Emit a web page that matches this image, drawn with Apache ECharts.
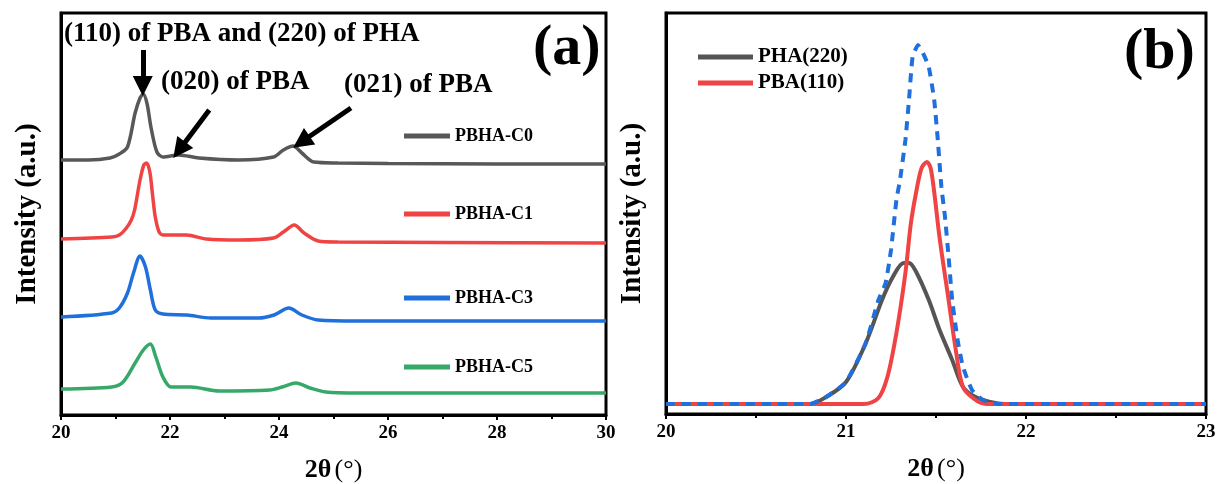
<!DOCTYPE html>
<html><head><meta charset="utf-8">
<script src="https://cdn.jsdelivr.net/npm/echarts@6/dist/echarts.min.js"></script>
<style>html,body{margin:0;padding:0;background:#fff}#c{width:1220px;height:484px}</style>
</head><body><div id="c"></div>
<script>
// ---------- Panel (a): XRD patterns (intensity in arbitrary units, offset curves) ----------
const c0X = [20, 20.5, 20.9, 21.07, 21.22, 21.36, 21.45, 21.51, 21.58, 21.65, 21.76, 21.87, 22.16, 22.53, 23.26, 23.9, 24.08, 24.26, 24.42, 24.64, 25.08, 26, 28, 30];
const c0Y = [255, 255, 257, 261, 268, 302, 317, 321, 311, 288, 263, 258, 260, 257, 255, 258, 265, 269, 262, 253, 252, 251.5, 251, 251];
const c1X = [20, 20.93, 21.07, 21.2, 21.29, 21.35, 21.45, 21.52, 21.57, 21.63, 21.68, 21.73, 21.8, 21.87, 22.3, 22.67, 23.26, 23.9, 24.08, 24.28, 24.46, 24.72, 25.08, 27, 30];
const c1Y = [176, 178, 180, 187, 195, 205, 235, 250, 252, 243, 220, 198, 183, 180, 180, 176, 175, 177, 183, 190, 182, 174, 173, 172.5, 172];
const c3X = [20, 20.93, 21.07, 21.22, 21.33, 21.45, 21.55, 21.64, 21.73, 21.87, 22.31, 22.75, 23.62, 23.91, 24.18, 24.42, 24.72, 25.44, 30];
const c3Y = [98, 102, 107, 122, 142, 159, 148, 125, 105, 101, 100, 97, 97, 100, 107, 100, 95, 94, 94];
const c5X = [20, 20.93, 21.14, 21.36, 21.51, 21.64, 21.74, 21.87, 22.02, 22.38, 22.9, 23.83, 24.06, 24.31, 24.57, 24.86, 25.44, 30];
const c5Y = [26, 28, 33, 52, 65, 71, 58, 38, 28, 28, 24, 25, 28, 32, 27, 23, 22, 22];
const namesA = ['PBHA-C0', 'PBHA-C1', 'PBHA-C3', 'PBHA-C5'];
const ticksA = [20, 22, 24, 26, 28, 30];

// ---------- Panel (b): peak deconvolution ----------
const phaX = [20, 20.8, 20.89, 21.0, 21.11, 21.2, 21.26, 21.32, 21.35, 21.39, 21.46, 21.52, 21.59, 21.65, 21.72, 21.83, 21.9, 23];
const phaY = [10, 10, 17, 32, 71, 114, 137, 151, 151, 142, 114, 84, 54, 27, 17, 11, 10, 10];
const pbaX = [20, 21.1, 21.18, 21.23, 21.28, 21.33, 21.36, 21.39, 21.42, 21.45, 21.47, 21.49, 21.52, 21.57, 21.61, 21.65, 21.72, 21.78, 23];
const pbaY = [10, 10, 16, 37, 81, 141, 190, 222, 246, 252, 246, 222, 176, 114, 64, 27, 14, 10, 10];
const sumX = [20, 20.8, 20.89, 21.0, 21.11, 21.18, 21.22, 21.25, 21.28, 21.3, 21.33, 21.35, 21.37, 21.4, 21.43, 21.46, 21.49, 21.51, 21.53, 21.55, 21.57, 21.59, 21.62, 21.65, 21.7, 21.76, 21.85, 23];
const sumY = [10, 10, 17, 32, 71, 114, 131, 164, 214, 234, 274, 314, 357, 369, 360, 347, 314, 274, 227, 197, 157, 114, 74, 47, 24, 14, 10, 10];
const namesB = ['PHA(220)', 'PBA(110)'];
const ticksB = [20, 21, 22, 23];

const FONT = '"Liberation Serif", "Times New Roman", serif';
const colA = ['#585858', '#f04343', '#1f6fdc', '#36a868'];
const zip = (xs, ys) => xs.map((x, i) => [x, ys[i]]);

const chart = echarts.init(document.getElementById('c'), null, {renderer: 'canvas'});

function xAxisCfg(gridIndex, min, max, interval) {
  return {
    type: 'value', gridIndex, min, max, interval,
    name: '{b|2θ} {n|(°)}', nameLocation: 'middle', nameGap: 42,
    nameTextStyle: {rich: {b: {fontFamily: FONT, fontWeight: 'bold', fontSize: 26, color: '#000'}, n: {fontFamily: FONT, fontSize: 26, color: '#000'}}},
    axisLine: {show: true, lineStyle: {color: '#000', width: 3}},
    axisTick: {show: true, length: 5, lineStyle: {color: '#000', width: 2}},
    minorTick: {show: true, splitNumber: 2, length: 4, lineStyle: {color: '#000', width: 2}},
    splitLine: {show: false},
    axisLabel: {fontFamily: FONT, fontWeight: 'bold', fontSize: 19, color: '#000', margin: 9}
  };
}
function yAxisCfg(gridIndex, max) {
  return {
    type: 'value', gridIndex, min: 0, max,
    name: 'Intensity (a.u.)', nameLocation: 'middle', nameRotate: 90, nameGap: 19,
    nameTextStyle: {fontFamily: FONT, fontWeight: 'bold', fontSize: 29, color: '#000'},
    axisLine: {show: true, lineStyle: {color: '#000', width: 3}},
    axisTick: {show: false}, axisLabel: {show: false}, splitLine: {show: false}
  };
}

const seriesA = [[c0X, c0Y], [c1X, c1Y], [c3X, c3Y], [c5X, c5Y]].map((d, i) => ({
  name: namesA[i], type: 'line', xAxisIndex: 0, yAxisIndex: 0,
  data: zip(d[0], d[1]), showSymbol: false, smooth: 0.3,
  lineStyle: {color: colA[i], width: 3.5}, itemStyle: {color: colA[i]}
}));
// arrows pointing at the reflections (data coordinates of panel a)
seriesA[0].markLine = {
  silent: true, symbol: ['none', 'triangle'], symbolSize: 20,
  lineStyle: {color: '#000', width: 5, type: 'solid'}, label: {show: false},
  itemStyle: {color: '#000'},
  emphasis: {disabled: true},
  data: [
    [{coord: [21.5, 365]}, {coord: [21.5, 329]}],
    [{coord: [22.72, 305]}, {coord: [22.17, 265]}],
    [{coord: [25.32, 307]}, {coord: [24.41, 273]}]
  ]
};

const seriesB = [
  {name: namesB[0], type: 'line', xAxisIndex: 1, yAxisIndex: 1, data: zip(phaX, phaY), showSymbol: false, smooth: 0.3,
   lineStyle: {color: '#555555', width: 4}, itemStyle: {color: '#555555'}},
  {name: namesB[1], type: 'line', xAxisIndex: 1, yAxisIndex: 1, data: zip(pbaX, pbaY), showSymbol: false, smooth: 0.3,
   lineStyle: {color: '#f04343', width: 4}, itemStyle: {color: '#f04343'}},
  {name: 'sum', type: 'line', xAxisIndex: 1, yAxisIndex: 1, data: zip(sumX, sumY), showSymbol: false, smooth: 0.15,
   lineStyle: {color: '#1f6fdc', width: 4, type: [9, 7]}, itemStyle: {color: '#1f6fdc'}}
];

const legA = namesA.map((n, i) => ({
  data: [n], left: 404, top: [127, 205, 289, 358][i], orient: 'vertical', padding: 0,
  icon: 'rect', itemWidth: 46, itemHeight: 5, selectedMode: false,
  textStyle: {fontFamily: FONT, fontWeight: 'bold', fontSize: 18, color: '#000', lineHeight: 16}
}));
const legB = {
  data: namesB, left: 698, top: 46, orient: 'vertical', padding: 0, itemGap: 4,
  icon: 'rect', itemWidth: 55, itemHeight: 5, selectedMode: false,
  textStyle: {fontFamily: FONT, fontWeight: 'bold', fontSize: 21, color: '#000', lineHeight: 22}
};

const txt = (text, left, y, size) => ({
  type: 'text', left, top: y - size * 0.55, z: 100,
  style: {text, fontFamily: FONT, fontWeight: 'bold', fontSize: size, fill: '#000'}
});

chart.setOption({
  animation: false,
  backgroundColor: '#fff',
  grid: [
    {left: 61, right: 614, top: 13, bottom: 69, show: true, borderColor: '#000', borderWidth: 3, containLabel: false, outerBoundsMode: 'none'},
    {left: 666, right: 14, top: 13, bottom: 70, show: true, borderColor: '#000', borderWidth: 3, containLabel: false, outerBoundsMode: 'none'}
  ],
  xAxis: [xAxisCfg(0, 20, 30, 2), xAxisCfg(1, 20, 23, 1)],
  yAxis: [yAxisCfg(0, 402), yAxisCfg(1, 401)],
  legend: [...legA, legB],
  series: [...seriesA, ...seriesB],
  graphic: [
    txt('(110) of PBA and (220) of PHA', 64, 35, 27),
    txt('(020) of PBA', 161, 83, 27),
    txt('(021) of PBA', 344, 86, 27),
    txt('(a)', 533, 52, 58),
    txt('(b)', 1124, 56, 58)
  ]
});
</script></body></html>
